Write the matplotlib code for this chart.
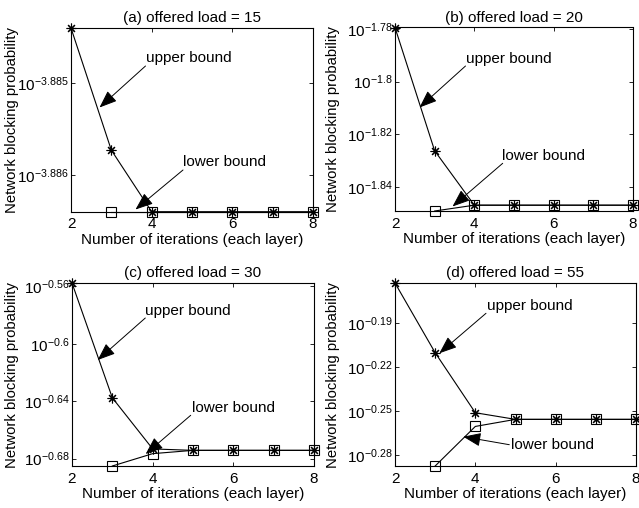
import numpy as np
import matplotlib
matplotlib.use('Agg')
import matplotlib.pyplot as plt
from matplotlib.patches import FancyArrowPatch
from matplotlib.ticker import NullLocator

plt.rcParams['font.family'] = 'Liberation Sans'
plt.rcParams['mathtext.fontset'] = 'custom'
plt.rcParams['mathtext.rm'] = 'Liberation Sans'
plt.rcParams['mathtext.it'] = 'Liberation Sans:italic'
plt.rcParams['mathtext.sf'] = 'Liberation Sans'
plt.rcParams['font.size'] = 11

W, H = 639, 508

# iterations (x axis)
iters = [2, 3, 4, 5, 6, 7, 8]
lower_iters = [3, 4, 5, 6, 7, 8]

titles = ['(a) offered load = 15', '(b) offered load = 20',
          '(c) offered load = 30', '(d) offered load = 55']

# log10 of the blocking probability
upper_a = [-3.8844, -3.88573, -3.8864, -3.8864, -3.8864, -3.8864, -3.8864]
lower_a = [-3.8864, -3.8864, -3.8864, -3.8864, -3.8864, -3.8864]
upper_b = [-1.7795, -1.8262, -1.8468, -1.8468, -1.8468, -1.8468, -1.8468]
lower_b = [-1.8490, -1.8468, -1.8468, -1.8468, -1.8468, -1.8468]
upper_c = [-0.5577, -0.6377, -0.6733, -0.6743, -0.6743, -0.6743, -0.6743]
lower_c = [-0.6852, -0.6766, -0.6743, -0.6743, -0.6743, -0.6743]
upper_d = [-0.1628, -0.2102, -0.2510, -0.2555, -0.2555, -0.2555, -0.2555]
lower_d = [-0.2872, -0.2603, -0.2555, -0.2555, -0.2555, -0.2555]

# y tick exponents and their labels
yt_a = [-3.885, -3.886]
yt_b = [-1.78, -1.8, -1.82, -1.84]
yt_c = [-0.56, -0.6, -0.64, -0.68]
yt_d = [-0.19, -0.22, -0.25, -0.28]
ytl_a = ['-3.885', '-3.886']
ytl_b = ['-1.78', '-1.8', '-1.82', '-1.84']
ytl_c = ['-0.56', '-0.6', '-0.64', '-0.68']
ytl_d = ['-0.19', '-0.22', '-0.25', '-0.28']

xt = [2, 4, 6, 8]

# axes boxes in pixels: left, right, top, bottom
boxes = [(71, 313, 28, 211.7), (395, 633, 27.5, 211),
         (72, 314, 283, 466), (395, 636, 283, 466)]
ylab_x = [-0.243, -0.259, -0.247, -0.258]

# annotation text anchor (left, center y) and arrow tail -> tip, pixels
up_text = [(145.7, 58.3), (465.7, 59.3), (145, 310.7), (486.7, 306.3)]
up_arrow = [((145.5, 66), (99.5, 107.5)), ((465.5, 66), (419.5, 107.5)),
            ((145.3, 318), (97.7, 360)), ((486, 313.3), (439.3, 353.3))]
lo_text = [(183.3, 162.3), (501.7, 156), (191.7, 408), (511, 445)]
lo_arrow = [((183, 170), (135.5, 209.5)), ((502.7, 163.3), (452.5, 206.5)),
            ((190.7, 415.3), (145.7, 454)), ((509.3, 444.7), (463.3, 436.7))]

uppers = [upper_a, upper_b, upper_c, upper_d]
lowers = [lower_a, lower_b, lower_c, lower_d]
yts = [yt_a, yt_b, yt_c, yt_d]
ytls = [ytl_a, ytl_b, ytl_c, ytl_d]


def fpos(p):
    return (p[0] / W, 1 - p[1] / H)


fig = plt.figure(figsize=(W / 100, H / 100), dpi=100)
asterisk = (8, 2, 0)

for i in range(4):
    l, r, t, b = boxes[i]
    ax = fig.add_axes([l / W, 1 - b / H, (r - l) / W, (b - t) / H])
    up = 10 ** np.array(uppers[i])
    lo = 10 ** np.array(lowers[i])
    ax.plot(iters, up, color='k', lw=0.8, marker=asterisk, ms=7,
            mew=0.8, clip_on=False, zorder=3)
    ax.plot(lower_iters, lo, color='k', lw=0.8, marker='s', ms=6.5,
            mfc='none', mew=0.8, clip_on=False, zorder=3)
    ax.set_yscale('log')
    ax.set_xlim(2, 8)
    ax.set_ylim(min(lo.min(), up.min()), max(lo.max(), up.max()))
    ax.set_xticks(xt)
    ax.set_yticks(10 ** np.array(yts[i]))
    ax.set_yticklabels(['$10^{' + s + '}$' for s in ytls[i]])
    ax.yaxis.set_minor_locator(NullLocator())
    ax.tick_params(direction='in', top=True, right=True, length=3, width=0.6,
                   labelsize=11)
    ax.tick_params(axis='x', pad=4)
    ax.tick_params(axis='y', pad=1.5)
    for s in ax.spines.values():
        s.set_linewidth(0.8)
    ax.set_title(titles[i], fontsize=11, pad=4)
    ax.set_xlabel('Number of iterations (each layer)', fontsize=11)
    ax.xaxis.set_label_coords(0.5, -(240 - 211.7) / (b - t))
    ax.xaxis.label.set_va('center')
    ax.set_ylabel('Network blocking probability', fontsize=10.7)
    ax.yaxis.set_label_coords(ylab_x[i], 0.5)
    ax.yaxis.label.set_va('center')

    for txt, pos, arr in [('upper bound', up_text[i], up_arrow[i]),
                          ('lower bound', lo_text[i], lo_arrow[i])]:
        x0, y0 = fpos(pos)
        fig.text(x0, y0, txt, ha='left', va='center', fontsize=11)
        fig.add_artist(FancyArrowPatch(fpos(arr[0]), fpos(arr[1]),
                                       transform=fig.transFigure,
                                       arrowstyle='-|>,head_length=0.9,head_width=0.35',
                                       mutation_scale=12, lw=0.7, color='k',
                                       shrinkA=0, shrinkB=0))

fig.savefig('out.png', dpi=100)
